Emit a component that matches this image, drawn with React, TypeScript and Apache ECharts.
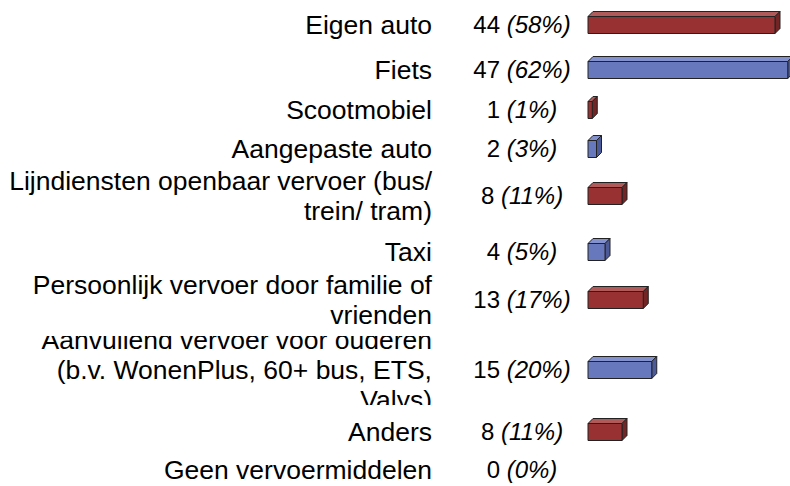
import React, { useEffect, useRef } from "react";
import * as echarts from "echarts";

// ---- data ----
const categories: string[] = [
  "Eigen auto",
  "Fiets",
  "Scootmobiel",
  "Aangepaste auto",
  "Lijndiensten openbaar vervoer (bus/\ntrein/ tram)",
  "Taxi",
  "Persoonlijk vervoer door familie of\nvrienden",
  "Aanvullend vervoer voor ouderen\n(b.v. WonenPlus, 60+ bus, ETS,\nValys)",
  "Anders",
  "Geen vervoermiddelen",
];
const counts: number[] = [44, 47, 1, 2, 8, 4, 13, 15, 8, 0];
const percentages: number[] = [58, 62, 1, 3, 11, 5, 17, 20, 11, 0];

// ---- layout / style ----
const rowCenters = [25, 70, 110, 149, 196, 252, 300, 370, 432, 470];
const ROW_H = 30;
const BAR_LEFT = 588;
const X_MAX = 50;
const PX_PER_UNIT = 4.25;
const BAR_H = 17;
const DEPTH = 5;
const FONT = '"Liberation Sans", Arial, Helvetica, sans-serif';
const palettes = [
  { front: "#983232", top: "#b05a5a", side: "#732424" },
  { front: "#6878bd", top: "#8391cf", side: "#4c5a99" },
];

export default function App() {
  const ref = useRef<HTMLDivElement>(null);

  useEffect(() => {
    if (!ref.current) return;
    const chart = echarts.init(ref.current, undefined, { renderer: "svg" });

    const grid: any[] = [];
    const xAxis: any[] = [];
    const yAxis: any[] = [];
    const series: any[] = [];

    categories.forEach((cat, i) => {
      grid.push({
        left: BAR_LEFT,
        top: rowCenters[i] - ROW_H / 2,
        width: X_MAX * PX_PER_UNIT,
        height: ROW_H,
        outerBoundsMode: "none",
      });
      xAxis.push({
        type: "value",
        gridIndex: i,
        min: 0,
        max: X_MAX,
        show: false,
      });
      yAxis.push({
        type: "category",
        gridIndex: i,
        data: [cat],
        axisLine: { show: false },
        axisTick: { show: false },
        splitLine: { show: false },
        axisLabel: {
          margin: BAR_LEFT - 432,
          fontFamily: FONT,
          fontSize: 26.5,
          lineHeight: 30,
          color: "#000",
          align: "right",
        },
      });
      const pal = palettes[i % 2];
      series.push({
        type: "custom",
        xAxisIndex: i,
        yAxisIndex: i,
        encode: { x: 0, y: 1 },
        clip: false,
        data: [[counts[i], 0, percentages[i]]],
        renderItem: (params: any, api: any) => {
          const v = api.value(0);
          const pct = api.value(2);
          const s = api.coord([0, 0]);
          const e = api.coord([v, 0]);
          const x0 = s[0];
          const x1 = e[0];
          const yc = s[1];
          const yt = yc - BAR_H / 2;
          const yb = yc + BAR_H / 2;
          const children: any[] = [];
          if (v > 0) {
            const stroke = { stroke: "#222", lineWidth: 1 };
            children.push({
              type: "polygon",
              shape: {
                points: [
                  [x0, yt],
                  [x1, yt],
                  [x1 + DEPTH, yt - DEPTH],
                  [x0 + DEPTH, yt - DEPTH],
                ],
              },
              style: { fill: pal.top, ...stroke },
            });
            children.push({
              type: "polygon",
              shape: {
                points: [
                  [x1, yt],
                  [x1 + DEPTH, yt - DEPTH],
                  [x1 + DEPTH, yb - DEPTH],
                  [x1, yb],
                ],
              },
              style: { fill: pal.side, ...stroke },
            });
            children.push({
              type: "rect",
              shape: { x: x0, y: yt, width: x1 - x0, height: BAR_H },
              style: { fill: pal.front, ...stroke },
            });
          }
          children.push({
            type: "text",
            x: x0 - 66,
            y: yc - 1,
            style: {
              text: `{v|${v} }{p|(${pct}%)}`,
              rich: {
                v: { fontSize: 24, fontFamily: FONT, fill: "#000" },
                p: { fontSize: 24, fontFamily: FONT, fontStyle: "italic", fill: "#000" },
              },
              fontSize: 24,
              fontFamily: FONT,
              fill: "#000",
              align: "center",
              verticalAlign: "middle",
              textAlign: "center",
              textVerticalAlign: "middle",
            },
          });
          return { type: "group", children };
        },
      });
    });

    chart.setOption({
      animation: false,
      backgroundColor: "#fff",
      grid,
      xAxis,
      yAxis,
      series,
      graphic: [
        {
          type: "rect",
          z: 100,
          shape: { x: 0, y: 326, width: 445, height: 10 },
          style: { fill: "#fff" },
        },
        {
          type: "rect",
          z: 100,
          shape: { x: 0, y: 405, width: 445, height: 11 },
          style: { fill: "#fff" },
        },
      ],
    });

    return () => chart.dispose();
  }, []);

  return (
    <div
      ref={ref}
      style={{ position: "fixed", left: 0, top: 0, width: 790, height: 486 }}
    />
  );
}
